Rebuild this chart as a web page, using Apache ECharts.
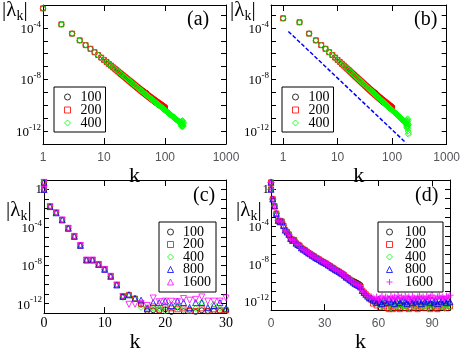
<!DOCTYPE html>
<html>
<head>
<meta charset="utf-8">
<script src="https://cdn.jsdelivr.net/npm/echarts@6/dist/echarts.min.js"></script>
<style>
html, body { margin: 0; background: #fff; }
#chart { width: 463px; height: 354px; }
</style>
</head>
<body>
<div id="chart"></div>
<script>
// all |lambda_k| values are stored as log10|lambda_k|

// panel (a), N = 400, k = 1..200
const aLog400 = [
  -2.48, -3.72, -4.44, -4.96, -5.33, -5.62, -5.88, -6.10, -6.30, -6.48,
  -6.64, -6.79, -6.92, -7.05, -7.16, -7.27, -7.38, -7.47, -7.57, -7.65,
  -7.74, -7.81, -7.89, -7.96, -8.03, -8.10, -8.16, -8.22, -8.28, -8.34,
  -8.39, -8.45, -8.50, -8.55, -8.60, -8.65, -8.69, -8.74, -8.78, -8.83,
  -8.87, -8.91, -8.95, -8.99, -9.03, -9.06, -9.10, -9.13, -9.17, -9.20,
  -9.24, -9.27, -9.30, -9.33, -9.37, -9.40, -9.43, -9.46, -9.48, -9.51,
  -9.54, -9.57, -9.60, -9.62, -9.65, -9.67, -9.70, -9.72, -9.75, -9.77,
  -9.80, -9.82, -9.85, -9.87, -9.89, -9.91, -9.94, -9.96, -9.98, -10.00,
  -10.02, -10.04, -10.06, -10.08, -10.10, -10.12, -10.14, -10.16, -10.18, -10.20,
  -10.22, -10.24, -10.26, -10.27, -10.29, -10.31, -10.33, -10.34, -10.36, -10.38,
  -10.40, -10.41, -10.43, -10.44, -10.46, -10.48, -10.49, -10.51, -10.52, -10.54,
  -10.55, -10.57, -10.58, -10.60, -10.61, -10.63, -10.64, -10.66, -10.67, -10.69,
  -10.70, -10.71, -10.73, -10.74, -10.76, -10.77, -10.78, -10.80, -10.81, -10.82,
  -10.83, -10.85, -10.86, -10.87, -10.89, -10.90, -10.91, -10.92, -10.93, -10.95,
  -10.96, -10.97, -10.98, -10.99, -11.01, -11.02, -11.03, -11.04, -11.05, -11.07,
  -11.08, -11.09, -11.10, -11.11, -11.12, -11.13, -11.14, -11.15, -11.16, -11.17,
  -11.18, -11.19, -11.20, -11.21, -11.22, -11.23, -11.24, -11.25, -11.26, -11.28,
  -11.29, -11.30, -11.31, -11.32, -11.33, -11.34, -11.35, -11.36, -11.37, -11.37,
  -11.30, -11.45, -11.38, -11.55, -11.32, -11.60, -11.42, -11.22, -11.52, -11.64,
  -11.28, -11.56, -11.18, -11.66, -11.40, -11.58, -11.25, -11.62, -11.45, -11.35
];
// panel (a), N = 200, k = 41..100 (k below 41 lies on the N = 400 points)
const aLog200Tail = [
  -8.86, -8.90, -8.94, -8.98, -9.01, -9.05, -9.08, -9.11, -9.15, -9.18,
  -9.21, -9.24, -9.27, -9.30, -9.33, -9.36, -9.39, -9.41, -9.44, -9.46,
  -9.49, -9.52, -9.54, -9.56, -9.59, -9.61, -9.63, -9.65, -9.68, -9.70,
  -9.72, -9.74, -9.76, -9.78, -9.80, -9.82, -9.84, -9.86, -9.88, -9.89,
  -9.91, -9.93, -9.95, -9.96, -9.98, -10.00, -10.01, -10.03, -10.05, -10.06,
  -10.08, -10.10, -10.11, -10.13, -10.15, -10.16, -10.18, -10.20, -10.22, -10.23
];
// panel (a), N = 100, k = 31..50
const aLog100Tail = [
  -8.38, -8.44, -8.49, -8.53, -8.58, -8.62, -8.66, -8.70, -8.74, -8.78,
  -8.82, -8.85, -8.89, -8.92, -8.95, -8.98, -9.01, -9.03, -9.05, -9.08
];
// panel (b): k = 1, 2 and the N = 400 end (k = 181..200) differ from (a)
const bLogHead = [-3.25, -3.56];
const bLog400Tail = [
  -11.25, -11.48, -11.35, -11.60, -11.20, -11.70, -11.40, -11.10, -11.55, -11.75,
  -11.30, -11.62, -11.05, -11.80, -11.45, -12.00, -11.20, -12.25, -11.50, -12.15
];
// panel (b) dashed guide line, end points
const bGuideK = [1.25, 180];
const bGuideLog = [-4.27, -12.92];

// panels (c) and (d): two values sit at k = 0
const cdLogK0 = [0.75, 0];
// panel (c), k = 1..12 (all N)
const cLogHead = [-1.80, -2.45, -3.20, -4.08, -4.93, -5.88, -7.42, -7.42, -7.88, -8.40, -9.13, -10.04];
// panel (c), k = 13..30
const cLog100 = [-11.25, -11.08, -11.47, -12.10, -12.78, -12.70, -12.78, -12.60, -12.88, -12.40, -12.80, -12.65, -12.88, -12.70, -12.78, -12.78, -12.78, -12.78];
const cLog200 = [-11.25, -11.08, -11.47, -12.06, -12.60, -12.30, -12.65, -12.40, -12.50, -12.60, -12.50, -12.78, -12.78, -12.50, -12.80, -12.60, -12.70, -12.70];
const cLog400 = [-11.35, -11.08, -11.47, -12.40, -12.40, -12.50, -12.50, -12.78, -12.00, -12.30, -12.65, -12.60, -12.50, -11.90, -12.60, -12.07, -12.50, -12.60];
const cLog800 = [-11.25, -11.08, -11.47, -11.64, -12.49, -11.90, -11.90, -11.74, -12.20, -11.74, -11.90, -12.40, -11.90, -11.90, -12.40, -12.20, -11.90, -12.49];
const cLog1600 = [-11.25, -12.07, -12.07, -11.98, -12.20, -11.41, -11.80, -11.74, -11.75, -11.80, -11.47, -11.64, -11.55, -11.30, -11.74, -11.74, -11.74, -11.41];

// panel (d), k = 1..55 (all N)
const dLogHead = [
  -1.05, -1.80, -2.60, -3.35, -3.50, -3.45, -3.90, -4.40, -4.60, -4.85,
  -5.30, -5.50, -5.45, -5.80, -5.95, -6.05, -6.30, -6.45, -6.55, -6.70,
  -6.85, -6.95, -7.10, -7.20, -7.35, -7.45, -7.55, -7.70, -7.80, -7.90,
  -8.00, -8.15, -8.25, -8.40, -8.50, -8.65, -8.75, -8.85, -9.00, -9.10,
  -9.25, -9.45, -9.55, -9.70, -9.85, -10.00, -10.15, -10.25, -10.35, -10.50,
  -10.90, -11.10, -11.30, -11.50, -11.70
];
// panel (d), N = 100, k = 46..50
const dLog100Tail = [-9.85, -9.95, -10.05, -10.15, -10.30];
// panel (d), k = 56..100
const dLog200 = [
  -11.9, -12.3, -12.1, -12.5, -12.2, -12.7, -12.4, -12.6, -12.3, -12.8,
  -12.9, -12.6, -12.9, -12.5, -12.8, -12.7, -12.9, -12.4, -12.6, -12.8,
  -12.5, -12.9, -12.7, -12.4, -12.8, -12.6, -12.9, -12.5, -12.7, -12.3,
  -12.8, -12.6, -12.4, -12.9, -12.7, -12.5, -12.8, -12.9, -12.6, -12.4,
  -12.7, -12.5, -12.8, -12.3, -12.6
];
const dLog400 = [
  -11.8, -12.1, -12.2, -12.0, -12.4, -12.3, -12.6, -12.2, -12.5, -12.7,
  -12.4, -12.8, -12.3, -12.6, -12.5, -12.2, -12.7, -12.4, -12.6, -12.3,
  -12.5, -12.8, -12.4, -12.2, -12.6, -12.5, -12.3, -12.7, -12.4, -12.6,
  -12.2, -12.5, -12.8, -12.3, -12.6, -12.4, -12.7, -12.5, -12.3, -12.6,
  -12.4, -12.8, -12.5, -12.3, -12.6
];
const dLog800 = [
  -11.7, -11.9, -12.0, -12.2, -11.8, -12.1, -12.3, -11.9, -12.0, -12.2,
  -11.8, -12.1, -11.9, -12.3, -12.0, -11.8, -12.2, -12.0, -11.9, -12.1,
  -12.3, -11.8, -12.0, -12.2, -11.9, -12.1, -11.8, -12.0, -12.3, -11.9,
  -12.1, -12.0, -11.8, -12.2, -11.9, -12.1, -12.0, -12.3, -11.9, -12.1,
  -11.8, -12.0, -12.2, -11.9, -12.1
];
const dLog1600 = [
  -11.6, -11.7, -11.8, -11.6, -11.9, -11.7, -11.5, -11.8, -11.6, -11.7,
  -11.9, -11.5, -11.7, -11.6, -11.8, -11.4, -11.7, -11.6, -11.8, -11.5,
  -11.7, -11.6, -11.9, -11.5, -11.7, -11.8, -11.6, -11.5, -11.7, -11.6,
  -11.8, -11.5, -11.7, -11.6, -11.4, -11.7, -11.8, -11.6, -11.5, -11.7,
  -11.6, -11.8, -11.5, -11.6, -11.4
];

const xTicksLog = [1, 10, 100, 1000];
const yLabelExps = [-12, -8, -4, 0];

const FONT = 'Liberation Serif';
const BLACK = '#000';

// builds [k, log10|lambda|] pairs starting at k0
function pts(logs, k0) {
  return logs.map((v, i) => [i + k0, v]);
}

const a100 = aLog400.slice(0, 30).concat(aLog100Tail);
const a200 = aLog400.slice(0, 40).concat(aLog200Tail);
const b100 = bLogHead.concat(a100.slice(2));
const b200 = bLogHead.concat(a200.slice(2));
const b400 = bLogHead.concat(aLog400.slice(2, 180), bLog400Tail);

const k0pts = cdLogK0.map(v => [0, v]);
const cData = [cLog100, cLog200, cLog400, cLog800, cLog1600].map(t => k0pts.concat(pts(cLogHead.concat(t), 1)));
const dData = [
  k0pts.concat(pts(dLogHead.slice(0, 45).concat(dLog100Tail), 1)),
  k0pts.concat(pts(dLogHead.concat(dLog200), 1)),
  k0pts.concat(pts(dLogHead.concat(dLog400), 1)),
  k0pts.concat(pts(dLogHead.concat(dLog800), 1)),
  k0pts.concat(pts(dLogHead.concat(dLog1600), 1))
];

const grids = [
  { left: 43, top: 5, width: 183, height: 139 },
  { left: 271, top: 5, width: 177, height: 139 },
  { left: 44, top: 180, width: 182, height: 143 },
  { left: 271, top: 180, width: 179, height: 143 }
];

const lineStyle = { color: BLACK, width: 1 };

function xAxisPair(g, base) {
  const bottom = Object.assign({
    gridIndex: g,
    position: 'bottom',
    axisLine: { onZero: false, lineStyle: lineStyle },
    axisTick: { inside: true, length: 6, lineStyle: lineStyle },
    minorTick: { show: true, length: 3, lineStyle: lineStyle },
    splitLine: { show: false },
    axisLabel: { color: BLACK, fontFamily: FONT, fontSize: 14, margin: 3 },
    name: 'k',
    nameLocation: 'middle',
    nameGap: 9,
    nameTextStyle: { color: BLACK, fontFamily: FONT, fontSize: 22 }
  }, base);
  bottom.minorTick = Object.assign({}, bottom.minorTick, base.minorTick);
  bottom.axisLabel = Object.assign({}, bottom.axisLabel, base.axisLabel);
  const top = Object.assign({}, bottom, {
    position: 'top', name: '', axisLabel: { show: false }
  });
  return [bottom, top];
}

function yAxisPair(g, max) {
  const left = {
    gridIndex: g,
    type: 'value',
    position: 'left',
    min: -13,
    max: max,
    interval: 1,
    axisLine: { onZero: false, lineStyle: lineStyle },
    axisTick: { inside: true, length: 5, lineStyle: lineStyle },
    splitLine: { show: false },
    axisLabel: {
      margin: 2,
      formatter: v => {
        if (!yLabelExps.includes(v)) return '';
        return v === 0 ? '{n|1}' : '{n|10}{s|' + v + '}';
      },
      rich: {
        n: { color: BLACK, fontFamily: FONT, fontSize: 13, verticalAlign: 'bottom' },
        s: { color: BLACK, fontFamily: FONT, fontSize: 9, verticalAlign: 'bottom', padding: [0, 0, 7, 0] }
      }
    }
  };
  const right = Object.assign({}, left, { position: 'right', axisLabel: { show: false } });
  return [left, right];
}

const logX = {
  type: 'log', logBase: 10, max: 1000,
  minorTick: { splitNumber: 9 },
  axisLabel: { formatter: v => xTicksLog.includes(v) ? String(v) : '' }
};

const xAxes = [].concat(
  xAxisPair(0, Object.assign({}, logX, { min: 1 })),
  xAxisPair(1, Object.assign({}, logX, { min: 0.6 })),
  xAxisPair(2, { type: 'value', min: 0, max: 30, interval: 10, minorTick: { splitNumber: 2 } }),
  xAxisPair(3, {
    type: 'value', min: 0, max: 100, interval: 30, minorTick: { splitNumber: 2 },
    axisLabel: { formatter: v => (v % 30 === 0 ? String(v) : '') }
  })
);
const yAxes = [].concat(yAxisPair(0, -2.22), yAxisPair(1, -2.22), yAxisPair(2, 1), yAxisPair(3, 1));

const colors = { 100: '#000000', 200: '#ff0000', 400: '#00ff00', 800: '#0000ff', 1600: '#ff00ff' };
const shapes = { 100: 'circle', 200: 'rect', 400: 'diamond', 800: 'triangle', 1600: 'triangle' };
const sizes = { 100: 5, 200: 5, 400: 6, 800: 6, 1600: 6 };
const PLUS = 'path://M2.5,0H3.5V2.5H6V3.5H3.5V6H2.5V3.5H0V2.5H2.5Z';
const HOLLOW = 'rgba(255,255,255,0)';

function scatter(panel, g, n, data) {
  const s = {
    name: panel + n,
    type: 'scatter',
    xAxisIndex: 2 * g,
    yAxisIndex: 2 * g,
    data: data,
    symbol: shapes[n],
    symbolSize: sizes[n],
    itemStyle: { color: HOLLOW, borderColor: colors[n], borderWidth: 1 },
    emphasis: { disabled: true },
    animation: false
  };
  if (panel === 'c' && n === 1600) s.symbolRotate = 180;
  if (panel === 'd' && n === 1600) {
    s.symbol = PLUS;
    s.symbolSize = 7;
    s.itemStyle = { color: colors[n] };
  }
  return s;
}

const series = [
  scatter('a', 0, 100, pts(a100, 1)),
  scatter('a', 0, 200, pts(a200, 1)),
  scatter('a', 0, 400, pts(aLog400, 1)),
  {
    type: 'line', xAxisIndex: 2, yAxisIndex: 2,
    data: bGuideK.map((k, i) => [k, bGuideLog[i]]),
    showSymbol: false, silent: true, animation: false,
    lineStyle: { color: '#0000ff', width: 1.5, type: [4, 2] }
  },
  scatter('b', 1, 100, pts(b100, 1)),
  scatter('b', 1, 200, pts(b200, 1)),
  scatter('b', 1, 400, pts(b400, 1))
];
[100, 200, 400, 800, 1600].forEach((n, i) => series.push(scatter('c', 2, n, cData[i])));
[100, 200, 400, 800, 1600].forEach((n, i) => series.push(scatter('d', 3, n, dData[i])));

function legend(panel, ns, box, textPad) {
  return Object.assign({
    orient: 'vertical',
    data: ns.map(n => ({
      name: panel + n,
      itemStyle: (panel === 'd' && n === 1600)
        ? { color: colors[n], borderWidth: 0 }
        : { color: HOLLOW, borderColor: colors[n], borderWidth: 1 }
    })),
    formatter: name => name.slice(1),
    borderColor: BLACK,
    borderWidth: 1,
    borderRadius: 0,
    backgroundColor: '#fff',
    itemWidth: 6,
    itemHeight: 6,
    selectedMode: false,
    textStyle: { color: BLACK, fontFamily: FONT, fontSize: 14, padding: [0, 0, 0, textPad] }
  }, box);
}

const legends = [
  legend('a', [100, 200, 400], { left: 54, top: 87, padding: [3, 4, 2, 10], itemGap: -1 }, 5),
  legend('b', [100, 200, 400], { left: 282, top: 87, padding: [3, 4, 2, 10], itemGap: -1 }, 5),
  legend('c', [100, 200, 400, 800, 1600], { left: 159, top: 222, padding: [3, 5, 3, 8], itemGap: -1.5 }, 4.5),
  legend('d', [100, 200, 400, 800, 1600], { left: 378, top: 222, padding: [3, 10, 3, 8], itemGap: -1.5 }, 7.5)
];

function label(text, x, y) {
  return { type: 'text', left: x, top: y, style: { text: text, fill: BLACK, font: '20px "Liberation Serif"' } };
}
function lamLabel(x, y) {
  return {
    type: 'text', left: x, top: y,
    style: {
      text: '{m||λ}{k|k}{m||}',
      rich: {
        m: { fill: BLACK, fontFamily: FONT, fontSize: 21, verticalAlign: 'top' },
        k: { fill: BLACK, fontFamily: FONT, fontSize: 14, verticalAlign: 'top', padding: [9, 0, 0, 0] }
      }
    }
  };
}

const option = {
  backgroundColor: '#fff',
  animation: false,
  grid: grids,
  xAxis: xAxes,
  yAxis: yAxes,
  legend: legends,
  series: series,
  graphic: [
    label('(a)', 187, 10), label('(b)', 414, 10), label('(c)', 193, 186), label('(d)', 415, 186),
    lamLabel(2, 0), lamLabel(230, 0), lamLabel(6, 200), lamLabel(236, 200)
  ]
};

const chart = echarts.init(document.getElementById('chart'));
chart.setOption(option);
</script>
</body>
</html>
